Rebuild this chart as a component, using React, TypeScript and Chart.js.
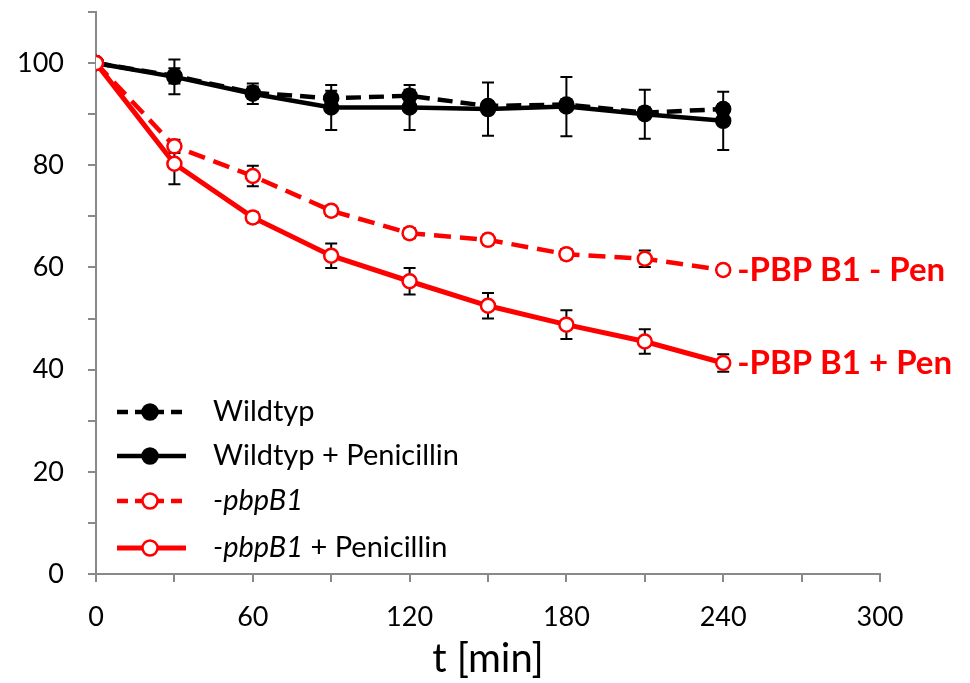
import React, { useEffect, useRef } from "react";
import { Chart, registerables } from "chart.js";

Chart.register(...registerables);

const times = [0, 30, 60, 90, 120, 150, 180, 210, 240];
const wildtyp = [100, 97.5, 94.2, 93.1, 93.6, 91.6, 91.9, 90.3, 91.0];
const wildtypErr = [0, 1.5, 1.2, 1.5, 1.2, 1.0, 1.0, 1.0, 1.0];
const wildtypPen = [100, 97.3, 94.0, 91.3, 91.3, 91.0, 91.5, 90.0, 88.7];
const wildtypPenErr = [0, 3.4, 2.0, 4.4, 4.4, 5.2, 5.8, 4.8, 5.7];
const pbp = [100, 83.7, 77.9, 71.1, 66.7, 65.4, 62.6, 61.7, 59.5];
const pbpErr = [0, 1.3, 2.0, 1.0, 1.0, 1.0, 1.0, 1.6, 1.0];
const pbpPen = [100, 80.3, 69.8, 62.3, 57.3, 52.5, 48.8, 45.5, 41.3];
const pbpPenErr = [0, 4.0, 1.0, 2.4, 2.6, 2.5, 2.8, 2.4, 1.7];

const legendLabels = [
  [{ t: "Wildtyp", i: false }],
  [{ t: "Wildtyp + Penicillin", i: false }],
  [{ t: "-pbpB1", i: true }],
  [{ t: "-pbpB1", i: true }, { t: " + Penicillin", i: false }],
];
const endLabels = ["", "", "-PBP B1 - Pen", "-PBP B1 + Pen"];

const FONT = "Lato";
const RED = "#ff0000";

export default function App() {
  const ref = useRef<HTMLCanvasElement>(null);
  useEffect(() => {
    if (!ref.current) return;
    const series = [wildtyp, wildtypPen, pbp, pbpPen];
    const errs = [wildtypErr, wildtypPenErr, pbpErr, pbpPenErr];
    const styles = [
      { color: "#000", dash: [15, 8], fill: "#000", width: 4.5 },
      { color: "#000", dash: [] as number[], fill: "#000", width: 4.5 },
      { color: RED, dash: [17, 9], fill: "#fff", width: 4.5 },
      { color: RED, dash: [] as number[], fill: "#fff", width: 5 },
    ];

    const errorBars = {
      id: "errorBars",
      beforeDatasetsDraw(chart: any) {
        const ctx = chart.ctx;
        const xs = chart.scales.x;
        const ys = chart.scales.y;
        ctx.save();
        ctx.strokeStyle = "#000";
        ctx.lineWidth = 2;
        series.forEach((d, i) => {
          d.forEach((v, j) => {
            const e = errs[i][j];
            if (!e) return;
            const x = xs.getPixelForValue(times[j]);
            const y1 = ys.getPixelForValue(v + e);
            const y2 = ys.getPixelForValue(v - e);
            ctx.beginPath();
            ctx.moveTo(x, y1);
            ctx.lineTo(x, y2);
            ctx.moveTo(x - 6, y1);
            ctx.lineTo(x + 6, y1);
            ctx.moveTo(x - 6, y2);
            ctx.lineTo(x + 6, y2);
            ctx.stroke();
          });
        });
        ctx.restore();
      },
    };

    const customLegend = {
      id: "customLegend",
      afterDraw(chart: any) {
        const ctx = chart.ctx;
        const area = chart.chartArea;
        const ys = chart.scales.y;
        const xs = chart.scales.x;
        ctx.save();
        const rows = [412, 456, 501, 548];
        styles.forEach((s, i) => {
          const y = rows[i];
          const x0 = area.left + 21;
          const x1 = area.left + 90;
          const xm = area.left + 54;
          ctx.strokeStyle = s.color;
          ctx.lineWidth = s.width;
          ctx.setLineDash(s.dash.length ? [11, 7] : []);
          ctx.beginPath();
          ctx.moveTo(x0, y);
          ctx.lineTo(x1, y);
          ctx.stroke();
          ctx.setLineDash([]);
          ctx.beginPath();
          ctx.arc(xm, y, 7.5, 0, Math.PI * 2);
          ctx.fillStyle = s.fill;
          ctx.fill();
          ctx.lineWidth = 2.5;
          ctx.stroke();
          let tx = area.left + 117;
          ctx.fillStyle = "#000";
          ctx.textBaseline = "middle";
          ctx.textAlign = "left";
          legendLabels[i].forEach((part) => {
            ctx.font = `${part.i ? "italic " : ""}29px ${FONT}`;
            ctx.fillText(part.t, tx, y);
            tx += ctx.measureText(part.t).width;
          });
        });
        series.forEach((d, i) => {
          if (!endLabels[i]) return;
          const last = d.length - 1;
          const x = xs.getPixelForValue(times[last]) + 14;
          const y = ys.getPixelForValue(d[last]);
          ctx.font = `bold 33px ${FONT}`;
          ctx.fillStyle = RED;
          ctx.textAlign = "left";
          ctx.textBaseline = "middle";
          ctx.fillText(endLabels[i], x, y);
        });
        ctx.restore();
      },
    };

    const chart = new Chart(ref.current, {
      type: "line",
      data: {
        labels: times,
        datasets: series.map((d, i) => ({
          data: d.map((v, j) => ({ x: times[j], y: v })),
          borderColor: styles[i].color,
          borderWidth: styles[i].width,
          borderDash: styles[i].dash,
          pointRadius: 7,
          pointBorderWidth: 2.5,
          pointBackgroundColor: styles[i].fill,
          pointBorderColor: styles[i].color,
          fill: false,
          tension: 0,
          order: i >= 2 ? 0 : 1,
        })) as any,
      },
      options: {
        animation: false,
        responsive: false,
        layout: { padding: { top: 12, right: 90, left: 0, bottom: 0 } },
        plugins: { legend: { display: false }, tooltip: { enabled: false } },
        scales: {
          x: {
            type: "linear",
            min: 0,
            max: 300,
            afterFit: (s: any) => {
              s.height = 109;
            },
            ticks: {
              stepSize: 30,
              autoSkip: false,
              maxRotation: 0,
              padding: 19,
              color: "#000",
              font: { family: FONT, size: 27 },
              callback: (v: any) => (Number(v) % 60 === 0 ? String(v) : ""),
            },
            grid: {
              drawOnChartArea: false,
              drawTicks: true,
              tickLength: 8,
              color: "#898989",
              lineWidth: 2,
            },
            border: { color: "#898989", width: 2 },
            title: {
              display: true,
              text: "t [min]",
              color: "#000",
              font: { family: FONT, size: 40, lineHeight: 1.2 },
              padding: { top: 0, bottom: 0 },
            },
          },
          y: {
            type: "linear",
            min: 0,
            max: 110,
            afterFit: (s: any) => {
              s.width = 96;
              s.paddingTop = 0;
              s.paddingBottom = 0;
            },
            ticks: {
              stepSize: 10,
              autoSkip: false,
              padding: 24,
              color: "#000",
              font: { family: FONT, size: 27 },
              callback: (v: any) =>
                Number(v) % 20 === 0 && Number(v) <= 100 ? String(v) : "",
            },
            grid: {
              drawOnChartArea: false,
              drawTicks: true,
              tickLength: 8,
              color: "#898989",
              lineWidth: 2,
            },
            border: { color: "#898989", width: 2 },
          },
        },
      },
      plugins: [errorBars, customLegend],
    });
    return () => chart.destroy();
  }, []);
  return (
    <div style={{ position: "absolute", left: 0, top: 0, width: 970, height: 683, background: "#fff" }}>
      <canvas ref={ref} width={970} height={683} style={{ display: "block" }} />
    </div>
  );
}
